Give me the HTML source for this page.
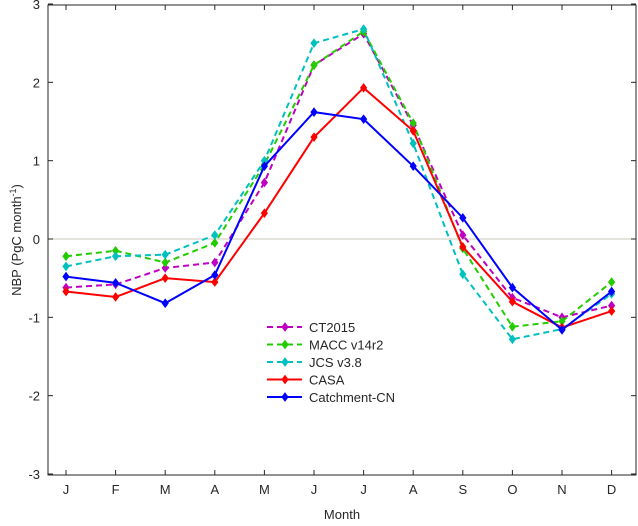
<!DOCTYPE html>
<html><head><meta charset="utf-8"><style>
body{margin:0;background:#fff;}
svg text{font-family:"Liberation Sans",sans-serif;font-size:13px;fill:#262626;}
</style></head><body>
<svg id="chart" width="638" height="521" xmlns="http://www.w3.org/2000/svg"></svg>
<script>
const months=["J","F","M","A","M","J","J","A","S","O","N","D"];
const yTicks=[-3,-2,-1,0,1,2,3];
const ct2015=[-0.62,-0.58,-0.37,-0.3,0.72,2.22,2.62,1.45,0.05,-0.75,-1.0,-0.85];
const macc=[-0.22,-0.15,-0.3,-0.05,0.95,2.22,2.65,1.48,-0.12,-1.12,-1.05,-0.55];
const jcs=[-0.35,-0.22,-0.2,0.05,1.0,2.5,2.68,1.22,-0.45,-1.28,-1.15,-0.7];
const casa=[-0.67,-0.74,-0.5,-0.55,0.33,1.3,1.93,1.38,-0.1,-0.8,-1.13,-0.92];
const catchment=[-0.48,-0.56,-0.82,-0.46,0.93,1.62,1.53,0.93,0.27,-0.62,-1.16,-0.67];
const seriesNames=["CT2015","MACC v14r2","JCS v3.8","CASA","Catchment-CN"];
const svg=document.getElementById('chart');
const NS="http://www.w3.org/2000/svg";
const L=48,R=636,T=5,B=475;
const x=i=>66+i*49.6;
const y=v=>239-v*78.33;
function mk(tag,attrs,parent){const e=document.createElementNS(NS,tag);for(const k in attrs)e.setAttribute(k,attrs[k]);(parent||svg).appendChild(e);return e;}
const frame=mk('rect',{x:L,y:T,width:R-L,height:B-T,fill:'#fff',stroke:'#262626','stroke-width':1});


const zl=mk('line',{x1:L,x2:R,y1:y(0),y2:y(0),stroke:'#c8c8b8','stroke-width':1});


yTicks.forEach(v=>{
  mk('line',{x1:L,x2:L+5,y1:y(v),y2:y(v),stroke:'#262626'});
  mk('line',{x1:R-5,x2:R,y1:y(v),y2:y(v),stroke:'#262626'});
  const t=mk('text',{x:L-8,y:y(v)+5,'text-anchor':'end'});t.textContent=v;
  
  
});
months.forEach((m,i)=>{
  mk('line',{x1:x(i),x2:x(i),y1:B,y2:B-5,stroke:'#262626'});
  mk('line',{x1:x(i),x2:x(i),y1:T,y2:T+5,stroke:'#262626'});
  const t=mk('text',{x:x(i),y:B+19,'text-anchor':'middle'});t.textContent=m;
  
  
});
const xt=mk('text',{x:(L+R)/2,y:519,'text-anchor':'middle','font-size':'14'});xt.textContent='Month';


const yt=mk('text',{x:0,y:0,'text-anchor':'middle',transform:'translate(21,240) rotate(-90)'});
yt.innerHTML='NBP (PgC month<tspan dy="-5" font-size="9">-1</tspan><tspan dy="5">)</tspan>';


const data=[ct2015,macc,jcs,casa,catchment];
const colors=['#c000c0','#22cc00','#00c0c0','#ff0000','#0000ff'];
const dashes=['6,4','6,4','6,4','',''];
function diamond(cx,cy,c,p){return mk('polygon',{points:`${cx},${cy-4} ${cx+3},${cy} ${cx},${cy+4} ${cx-3},${cy}`,fill:c,stroke:c},p);}
data.forEach((d,s)=>{
  const g=mk('g',{});
  
  
  mk('polyline',{points:d.map((v,i)=>x(i)+','+y(v)).join(' '),fill:'none',stroke:colors[s],'stroke-width':2,'stroke-dasharray':dashes[s]},g);
  d.forEach((v,i)=>diamond(x(i),y(v),colors[s],g));
});
const lg=mk('g',{});


seriesNames.forEach((n,s)=>{
  const ly=327+s*17.5;
  const e=mk('g',{},lg);
  
  
  mk('line',{x1:267,x2:302,y1:ly,y2:ly,stroke:colors[s],'stroke-width':2,'stroke-dasharray':dashes[s]},e);
  diamond(285,ly,colors[s],e);
  const t=mk('text',{x:309,y:ly+5},e);t.textContent=n;
});
</script>
</body></html>
